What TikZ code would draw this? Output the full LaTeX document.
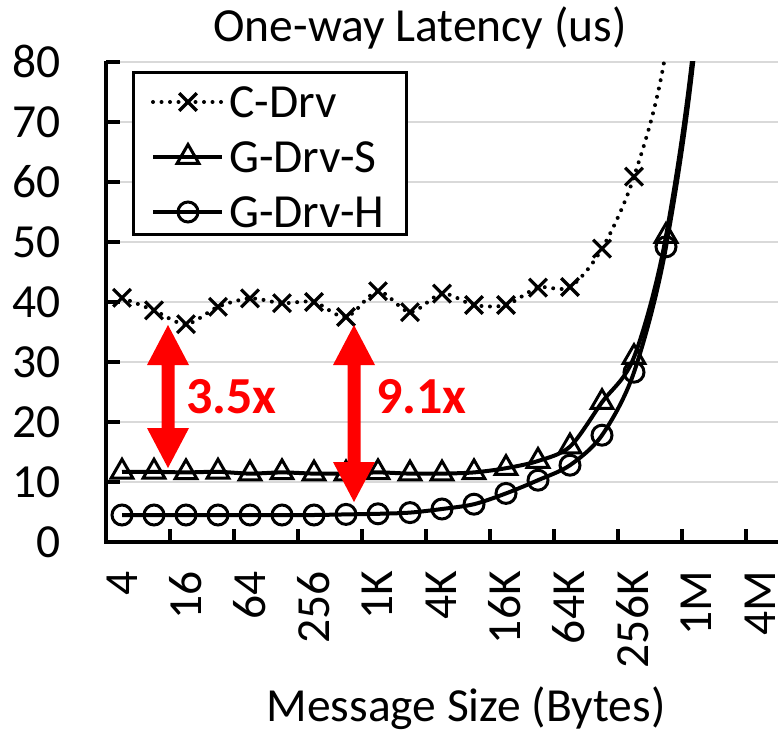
\documentclass[tikz,border=0pt]{standalone}
\usepackage{fontspec}
\setmainfont{Carlito}
\usetikzlibrary{plotmarks}
\definecolor{gridgray}{HTML}{D9D9D9}
\definecolor{hired}{HTML}{FF0000}
\tikzset{
  lbl/.style={font=\fontsize{47.5}{52}\selectfont, inner sep=0pt},
  axisline/.style={line width=4pt, black},
  gridline/.style={line width=2pt, gridgray},
  series/.style={line width=4pt, black, line join=round},
  cdrvline/.style={series, dash pattern=on 0pt off 8.5pt, line cap=round},
  mk/.style={line width=3pt, solid, fill=white},
  xmk/.style={line width=3.2pt, solid},
  gain/.style={lbl, font=\fontsize{52}{56}\selectfont\bfseries, text=hired, anchor=west},
}
\begin{document}
\begin{tikzpicture}[x=1pt,y=1pt]
\useasboundingbox (0,0) rectangle (781,-733);

% horizontal grid lines and value labels
\foreach \v in {10,20,...,80} {
  \draw[gridline] (106,{-542+6*\v}) -- (778,{-542+6*\v});
}
\foreach \v in {0,10,...,80} {
  \node[lbl, anchor=base east] (ylab\v) at (61,{-542+6*\v-15.5}) {\v};
  \draw[axisline] (106,{-542+6*\v}) -- (120,{-542+6*\v});
}

% category ticks
\foreach \t in {1,...,10} {
  \draw[axisline] ({106+64*\t},-542) -- ({106+64*\t},-529);
}

% axes
\draw[axisline] (106,-61) -- (106,-542);
\draw[axisline] (104,-542) -- (778,-542);

% category labels
\foreach \lab [count=\k from 0] in {4,16,64,256,1K,4K,16K,64K,256K,1M,4M} {
  \node[lbl, rotate=90, anchor=east] (xlab\k) at ({122+64*\k-0.2*\k},-571) {\lab};
}

% titles
\node[lbl, anchor=base] (title) at (420,-42) {One-way Latency (us)};
\node[lbl, anchor=base] (xtitle) at (466,-721) {Message Size (Bytes)};

% data series
\begin{scope}[shift={(122pt,-542pt)}, x=32pt, y=6pt]
  \clip (-0.5,-3) rectangle (20.5,80);
  \draw[cdrvline] plot[smooth, tension=0.5] coordinates {
    (0,40.7) (1,38.6) (2,36.3) (3,39.2) (4,40.6) (5,39.8) (6,40.0) (7,37.5)
    (8,41.8) (9,38.3) (10,41.4) (11,39.5) (12,39.5) (13,42.4) (14,42.5)
    (15,48.9) (16,60.9) (17,82) (18,130)};
  \draw[series] plot[smooth, tension=0.5] coordinates {
    (0,11.7) (1,11.7) (2,11.6) (3,11.7) (4,11.4) (5,11.6) (6,11.4) (7,11.4)
    (8,11.6) (9,11.4) (10,11.4) (11,11.6) (12,12.3) (13,13.5) (14,15.9)
    (15,23.3) (16,30.8) (17,51.0) (18,90) (19,170)};
  \draw[series] plot[smooth, tension=0.5] coordinates {
    (0,4.5) (1,4.5) (2,4.5) (3,4.5) (4,4.5) (5,4.5) (6,4.5) (7,4.6)
    (8,4.7) (9,4.9) (10,5.5) (11,6.3) (12,8.1) (13,10.3) (14,12.8)
    (15,17.8) (16,28.3) (17,49.2) (18,88) (19,168)};
  \draw plot[only marks, mark=x, mark size=12.5pt, mark options={xmk}] coordinates {
    (0,40.7) (1,38.6) (2,36.3) (3,39.2) (4,40.6) (5,39.8) (6,40.0) (7,37.5)
    (8,41.8) (9,38.3) (10,41.4) (11,39.5) (12,39.5) (13,42.4) (14,42.5)
    (15,48.9) (16,60.9)};
  \draw plot[only marks, mark=triangle, mark size=12.5pt, mark options={mk}] coordinates {
    (0,11.7) (1,11.7) (2,11.6) (3,11.7) (4,11.4) (5,11.6) (6,11.4) (7,11.4)
    (8,11.6) (9,11.4) (10,11.4) (11,11.6) (12,12.3) (13,13.5) (14,15.9)
    (15,23.3) (16,30.8) (17,51.0)};
  \draw plot[only marks, mark=o, mark size=10pt, mark options={mk}] coordinates {
    (0,4.5) (1,4.5) (2,4.5) (3,4.5) (4,4.5) (5,4.5) (6,4.5) (7,4.6)
    (8,4.7) (9,4.9) (10,5.5) (11,6.3) (12,8.1) (13,10.3) (14,12.8)
    (15,17.8) (16,28.3) (17,49.2)};
\end{scope}

% legend
\draw[line width=3pt, fill=white] (133,-73) rectangle (406,-234);
\draw[cdrvline] (153,-102) -- (222,-102);
\draw plot[only marks, mark=x, mark size=12.5pt, mark options={xmk}] coordinates {(188,-102)};
\draw[series] (153,-157) -- (222,-157);
\draw plot[only marks, mark=triangle, mark size=12.5pt, mark options={mk}] coordinates {(188,-157)};
\draw[series] (153,-212) -- (222,-212);
\draw plot[only marks, mark=o, mark size=10pt, mark options={mk}] coordinates {(188,-212)};
\node[lbl, anchor=west] (legC) at (229,-102) {C-Drv};
\node[lbl, anchor=west] (legS) at (229,-157) {G-Drv-S};
\node[lbl, anchor=west] (legH) at (229,-212) {G-Drv-H};

% speed-up arrows
\fill[hired] (168,-325) -- (189,-365) -- (174.5,-365) -- (174.5,-428) -- (189,-428)
  -- (168,-468) -- (147,-428) -- (161.5,-428) -- (161.5,-365) -- (147,-365) -- cycle;
\fill[hired] (354,-325) -- (375,-365) -- (360.5,-365) -- (360.5,-462) -- (375,-462)
  -- (354,-502) -- (333,-462) -- (347.5,-462) -- (347.5,-365) -- (333,-365) -- cycle;
\node[gain] (g1) at (186,-397) {3.5x};
\node[gain] (g2) at (376,-397) {9.1x};
\end{tikzpicture}
\end{document}
